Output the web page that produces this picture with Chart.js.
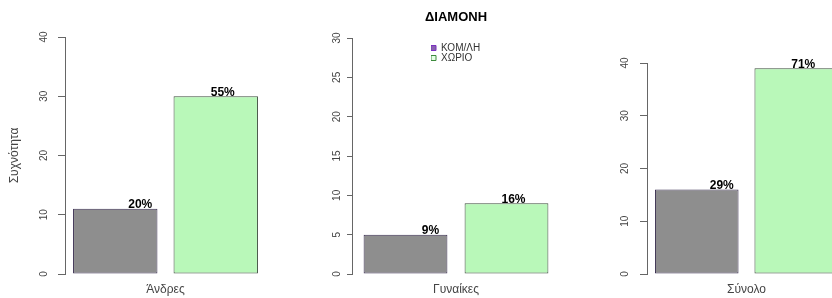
<!DOCTYPE html>
<html>
<head>
<meta charset="utf-8">
<title>ΔΙΑΜΟΝΗ</title>
<script src="https://cdn.jsdelivr.net/npm/chart.js@4.4.0/dist/chart.umd.min.js"></script>
<style>
  html, body { margin: 0; padding: 0; background: #fff; overflow: hidden; width: 832px; height: 298px; }
  canvas { position: absolute; top: 0; }
</style>
</head>
<body>
<canvas id="panel0" width="280" height="298" style="left:0px"></canvas>
<canvas id="panel1" width="280" height="298" style="left:280px"></canvas>
<canvas id="panel2" width="300" height="298" style="left:560px"></canvas>
<script>
// data
const groups = ['Άνδρες', 'Γυναίκες', 'Σύνολο'];
const seriesNames = ['ΚΟΜ/ΛΗ', 'ΧΩΡΙΟ'];
const komCounts = [11, 5, 16];
const xorioCounts = [30, 9, 39];
const komPct = ['20%', '9%', '29%'];
const xorioPct = ['55%', '16%', '71%'];
const yMax = [40, 30, 40];
const yStep = [10, 5, 10];

const FONT = '"Liberation Sans", Arial, Helvetica, sans-serif';

// per panel layout (pixels)
const panelLayout = [
  { axisW: 65, top: 37, right: 14, tickLen: 7, tickPad: 8.4, cat: 1.0, bar: 0.84 },
  { axisW: 72, top: 0, right: 0, tickLen: 5, tickPad: 4.4, cat: 0.971, bar: 0.83 },
  { axisW: 87, top: 63, right: 14, tickLen: 7, tickPad: 9.4, cat: 1.0, bar: 0.84 }
];

// percentage text on top of each bar
const pctLabels = {
  id: 'pctLabels',
  afterDatasetsDraw(chart, args, opts) {
    const ctx = chart.ctx;
    ctx.save();
    ctx.font = 'bold 12px ' + FONT;
    ctx.fillStyle = '#000';
    ctx.textAlign = 'center';
    ctx.textBaseline = 'middle';
    chart.data.datasets.forEach(function(ds, i) {
      const bar = chart.getDatasetMeta(i).data[0];
      const shift = i === 0 ? 25 : 7;
      ctx.fillText(opts.texts[i], bar.x + shift, bar.y - 4);
    });
    ctx.restore();
  }
};

// move the in-plot legend to where R put it
// (vertical legend boxes get top reset to 0, so set it from the chart area)
const legendShift = {
  id: 'legendShift',
  afterLayout(chart) {
    if (!chart.options.plugins.legend.display || !chart.legend) return;
    const area = chart.chartArea;
    const lg = chart.legend;
    lg.left = area.left + 79;
    lg.right = area.right;
    lg.top = area.top + 5;
    lg.bottom = area.bottom;
  }
};

const legendFill = ['#8a62b0', '#e6ffe6'];
const legendStroke = ['#7a2fc0', '#3c8a3c'];

groups.forEach(function(group, p) {
  const lay = panelLayout[p];
  const ctx = document.getElementById('panel' + p).getContext('2d');

  new Chart(ctx, {
    type: 'bar',
    data: {
      labels: [group],
      datasets: [
        {
          label: seriesNames[0],
          data: [komCounts[p]],
          backgroundColor: '#8e8e8e',
          borderColor: '#3a2e50',
          borderWidth: 1,
          borderSkipped: false,
          clip: false
        },
        {
          label: seriesNames[1],
          data: [xorioCounts[p]],
          backgroundColor: '#b9f8b9',
          borderColor: '#3e4e3e',
          borderWidth: 1,
          borderSkipped: false,
          clip: false
        }
      ]
    },
    options: {
      responsive: false,
      animation: false,
      devicePixelRatio: 1,
      datasets: {
        bar: { categoryPercentage: lay.cat, barPercentage: lay.bar }
      },
      layout: { padding: { top: lay.top, right: lay.right, left: 0, bottom: 0 } },
      scales: {
        x: {
          grid: { display: false, drawTicks: false },
          border: { display: false },
          ticks: { color: '#444', font: { size: 12, family: FONT }, padding: 8 },
          afterFit: function(s) { s.height = 24; }
        },
        y: {
          min: 0,
          max: yMax[p],
          ticks: {
            stepSize: yStep[p],
            minRotation: 90,
            maxRotation: 90,
            crossAlign: 'center',
            padding: lay.tickPad,
            color: '#444',
            font: { size: 10, family: FONT }
          },
          grid: { drawOnChartArea: false, tickLength: lay.tickLen, color: '#666' },
          border: { color: '#666', width: 1 },
          title: {
            display: p === 0,
            text: 'Συχνότητα',
            color: '#444',
            font: { size: 12, family: FONT },
            padding: { top: 7, bottom: 0 }
          },
          afterFit: function(s) { s.width = lay.axisW; }
        }
      },
      plugins: {
        title: {
          display: p === 1,
          text: 'ΔΙΑΜΟΝΗ',
          fullSize: false,
          color: '#000',
          font: { size: 13, weight: 'bold', family: FONT },
          padding: { top: 10, bottom: 12.4 }
        },
        legend: {
          display: p === 1,
          position: 'chartArea',
          align: 'start',
          labels: {
            boxWidth: 5,
            boxHeight: 5,
            padding: 0,
            color: '#333',
            font: { size: 10, family: FONT },
            generateLabels: function(chart) {
              return chart.data.datasets.map(function(ds, i) {
                return {
                  text: ds.label,
                  fillStyle: legendFill[i],
                  strokeStyle: legendStroke[i],
                  lineWidth: 1,
                  hidden: false,
                  datasetIndex: i,
                  fontColor: '#333'
                };
              });
            }
          }
        },
        tooltip: { enabled: false },
        pctLabels: { texts: [komPct[p], xorioPct[p]] }
      }
    },
    plugins: [pctLabels, legendShift]
  });
});
</script>
</body>
</html>
